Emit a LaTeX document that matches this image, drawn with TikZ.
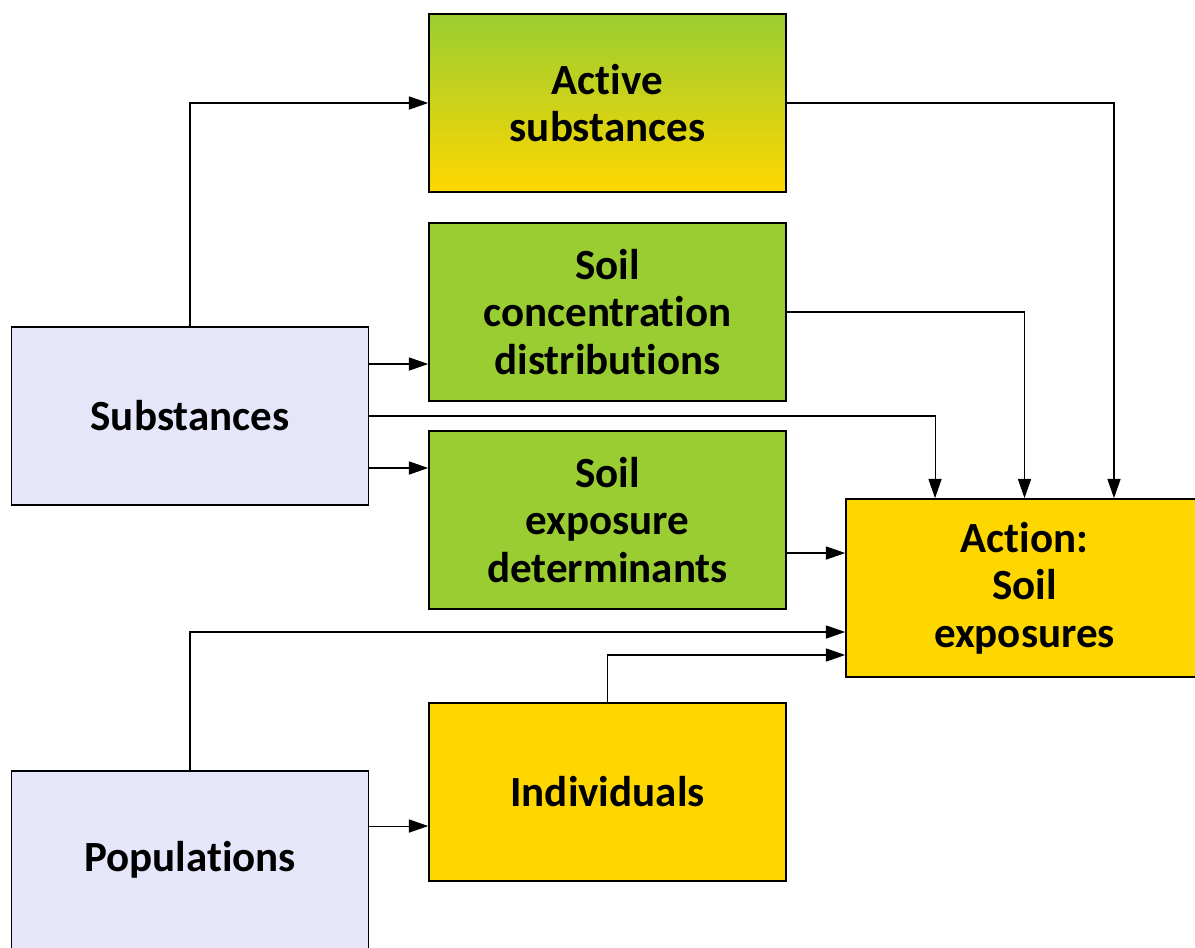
\documentclass[tikz,border=0pt]{standalone}
\usepackage{fontspec}
\setmainfont[Ligatures=NoCommon]{Carlito}
\usetikzlibrary{arrows.meta}

\definecolor{lavender}{HTML}{E6E6FA}
\definecolor{leafgreen}{HTML}{9ACD32}
\definecolor{goldbox}{HTML}{FFD700}

\tikzset{
  box/.style={draw=black, line width=1pt, minimum width=7.14cm, minimum height=3.56cm,
    align=center, font=\bfseries\fontsize{24.5}{27}\selectfont},
  inputbox/.style={box, fill=lavender},
  greenbox/.style={box, fill=leafgreen},
  goldnode/.style={box, fill=goldbox},
  arr/.style={draw=black, line width=0.6pt, -{Triangle[length=11pt,width=7.5pt]}}
}

\begin{document}
\begin{tikzpicture}[x=0.02cm, y=-0.02cm]
\useasboundingbox (0,0) rectangle (1195,947);
\clip (0,0) rectangle (1195,947);

% Inputs (left)
\node[inputbox] (subst) at (190,416) {Substances};
\node[inputbox] (pop)   at (190,860) {Populations};

% Middle column
\node[box, top color=leafgreen, bottom color=goldbox] (active) at (607.5,103) {Active\\substances};
\node[greenbox] (conc)  at (607.5,312) {Soil\\concentration\\distributions};
\node[greenbox] (det)   at (607.5,520) {Soil\\exposure\\determinants};
\node[goldnode] (indiv) at (607.5,792) {Individuals};

% Outcome
\node[goldnode] (action) at (1024.5,588) {Action:\\Soil\\exposures};

% Entry points
\coordinate (s1) at ([yshift=1.04cm]subst.east);
\coordinate (s2) at ([yshift=-1.04cm]subst.east);
\coordinate (t1) at ([xshift=-1.79cm]action.north);
\coordinate (t3) at ([xshift=1.79cm]action.north);
\coordinate (w1) at ([yshift=0.7cm]action.west);
\coordinate (w2) at ([yshift=-0.88cm]action.west);
\coordinate (w3) at ([yshift=-1.34cm]action.west);
\coordinate (p1) at ([yshift=0.68cm]pop.east);

% Connectors
\draw[arr] (subst.north) |- (active.west);
\draw[arr] (s1) -- (s1 -| conc.west);
\draw[arr] (s2) -- (s2 -| det.west);
\draw[arr] (subst.east) -| (t1);
\draw[arr] (conc.east) -| (action.north);
\draw[arr] (active.east) -| (t3);
\draw[arr] (w1 -| det.east) -- (w1);
\draw[arr] (pop.north) |- (w2);
\draw[arr] (indiv.north) |- (w3);
\draw[arr] (p1) -- (p1 -| indiv.west);
\end{tikzpicture}
\end{document}
